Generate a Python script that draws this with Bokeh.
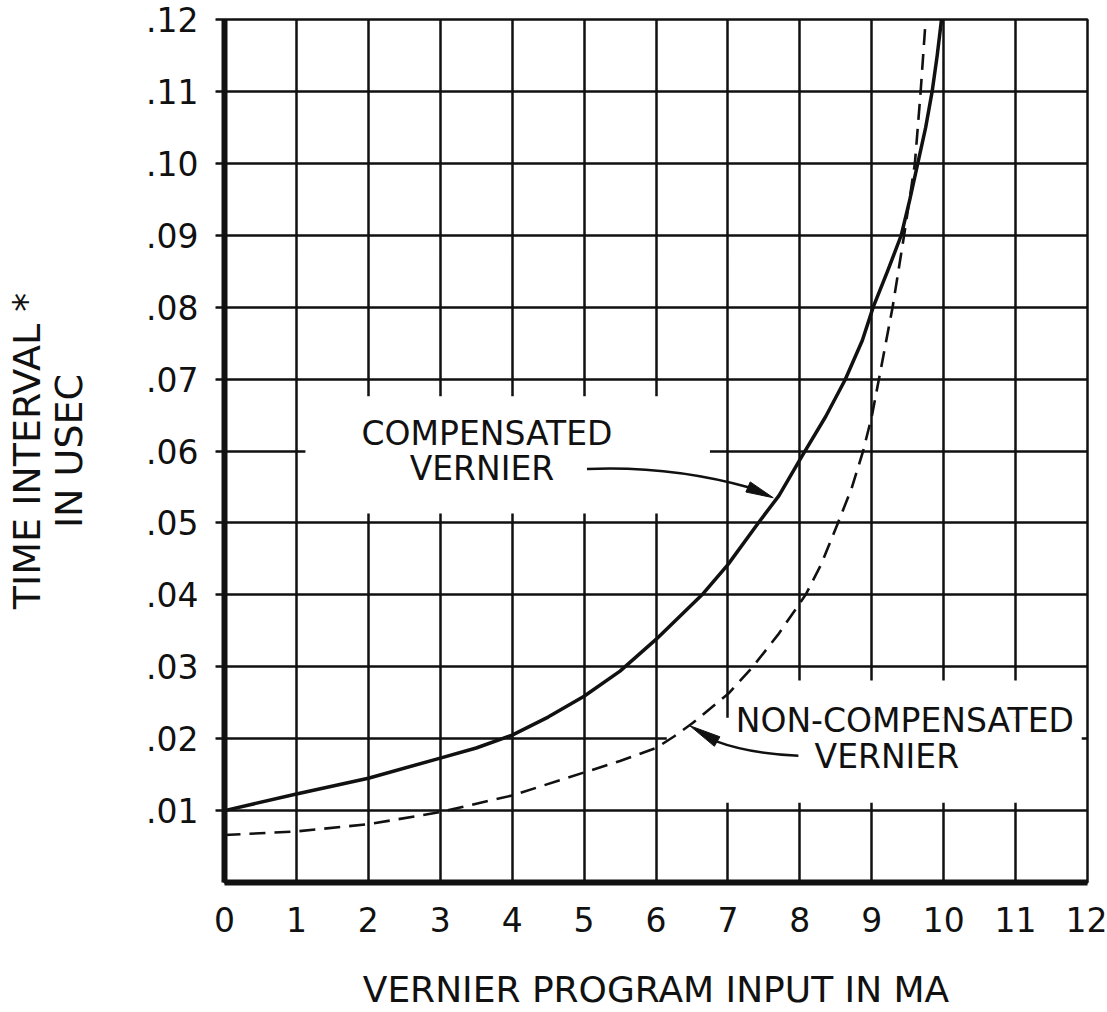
from bokeh.plotting import figure
from bokeh.models import FixedTicker, CustomJSTickFormatter, Range1d
from bokeh.core.properties import value
from bokeh.embed import file_html
from bokeh.resources import INLINE

FONT = "DejaVu Sans"
INK = "#111111"

# ---- data ----
x_ticks = [0, 1, 2, 3, 4, 5, 6, 7, 8, 9, 10, 11, 12]
y_ticks = [0.01, 0.02, 0.03, 0.04, 0.05, 0.06, 0.07, 0.08, 0.09, 0.10, 0.11, 0.12]

comp_x = [0, 1, 2, 3, 3.5, 4, 4.5, 5, 5.5, 6, 6.64, 7.0, 7.43, 7.71, 8.03, 8.36, 8.63,
          8.87, 9.02, 9.22, 9.41, 9.53, 9.64, 9.75, 9.84, 9.91, 9.97]
comp_y = [0.0100, 0.0123, 0.0145, 0.0173, 0.0187, 0.0205, 0.0230, 0.0259, 0.0294, 0.0338,
          0.0400, 0.0442, 0.0501, 0.0538, 0.0593, 0.0648, 0.0699, 0.0754, 0.0800, 0.0850,
          0.0900, 0.0950, 0.1000, 0.1050, 0.1100, 0.1150, 0.1200]

noncomp_x = [0, 1, 2, 3, 4, 5, 5.5, 6, 6.25, 6.5, 7.0, 7.33, 7.7, 8.08, 8.3, 8.53, 8.72,
             8.88, 9.0, 9.10, 9.29, 9.45, 9.60, 9.68, 9.75]
noncomp_y = [0.0066, 0.0071, 0.0081, 0.0098, 0.0121, 0.0153, 0.0169, 0.0187, 0.0203, 0.0221,
             0.0262, 0.0298, 0.0345, 0.0400, 0.0443, 0.0500, 0.0548, 0.0600, 0.0648, 0.0700,
             0.0800, 0.0900, 0.1000, 0.1100, 0.1200]

x_title = "VERNIER PROGRAM INPUT IN MA"
y_title = "TIME INTERVAL *\nIN USEC"
comp_lines = ["COMPENSATED", "VERNIER"]
noncomp_lines = ["NON-COMPENSATED", "VERNIER"]

# ---- figure ----
p = figure(width=1107, height=1012, x_range=Range1d(0, 12), y_range=Range1d(0, 0.12),
           output_backend="svg", toolbar_location=None,
           min_border_left=224, min_border_right=20, min_border_top=19, min_border_bottom=129)
p.background_fill_color = "white"
p.border_fill_color = "white"
p.outline_line_color = INK
p.outline_line_width = 2.5
p.outline_line_alpha = 1.0

for ax, ticks in ((p.xaxis[0], x_ticks), (p.yaxis[0], y_ticks)):
    ax.ticker = FixedTicker(ticks=ticks)
    ax.axis_line_color = INK
    ax.axis_line_width = 6
    ax.major_tick_line_color = INK
    ax.major_tick_line_width = 2.5
    ax.major_tick_in = 0
    ax.minor_tick_line_color = None
    ax.major_label_text_font = FONT
    ax.major_label_text_font_size = "33px"
    ax.major_label_text_color = INK
    ax.axis_label_text_font = FONT
    ax.axis_label_text_font_style = "normal"
    ax.axis_label_text_color = INK

p.xaxis.major_tick_out = 0
p.xaxis.major_label_standoff = 24
p.xaxis.axis_label = x_title
p.xaxis.axis_label_text_font_size = "36px"
p.xaxis.axis_label_standoff = 34

p.yaxis.major_tick_out = 9
p.yaxis.major_label_standoff = 17
p.yaxis.formatter = CustomJSTickFormatter(code="return tick.toFixed(2).slice(1);")
p.yaxis.axis_label = y_title
p.yaxis.axis_label_text_font_size = "38px"
p.yaxis.axis_label_text_line_height = 0.95
p.yaxis.axis_label_standoff = 52

for g, ticks in ((p.xgrid[0], x_ticks), (p.ygrid[0], y_ticks)):
    g.ticker = FixedTicker(ticks=ticks)
    g.grid_line_color = INK
    g.grid_line_width = 2.5
    g.grid_line_alpha = 1.0

# ---- white label boxes that interrupt the grid ----
p.quad(left=[1.125, 6.15, 7.05], right=[6.75, 11.92, 11.92],
       bottom=[0.0513, 0.0111, 0.0229], top=[0.0676, 0.0229, 0.0281],
       fill_color="white", line_color=None)

# ---- curves ----
p.line(comp_x, comp_y, line_color=INK, line_width=3.5, line_join="round")
p.line(noncomp_x, noncomp_y, line_color=INK, line_width=2.6, line_dash="16 9")

# ---- labels ----
p.text(x=[3.65, 3.58], y=[0.0624, 0.0576], text=comp_lines,
       text_font=value(FONT), text_font_size="33px", text_color=INK,
       text_align="center", text_baseline="middle")
p.text(x=[9.46, 9.21], y=[0.0225, 0.0175], text=noncomp_lines,
       text_font=value(FONT), text_font_size="33px", text_color=INK,
       text_align="center", text_baseline="middle")

# ---- leader arrows ----
SX = 863 / 12.0
SY = 864 / 0.12

def head(tip, base, width_px):
    tx, ty = tip[0] * SX, tip[1] * SY
    bx, by = base[0] * SX, base[1] * SY
    dx, dy = tx - bx, ty - by
    n = (dx * dx + dy * dy) ** 0.5
    nx, ny = -dy / n * width_px / 2, dx / n * width_px / 2
    xs = [tx / SX, (bx + nx) / SX, (bx - nx) / SX]
    ys = [ty / SY, (by + ny) / SY, (by - ny) / SY]
    return xs, ys

p.quadratic(x0=[5.04, 7.98], y0=[0.0575, 0.01764], x1=[7.31, 6.82], y1=[0.0549, 0.0197],
            cx=[6.2, 7.3], cy=[0.0580, 0.0179], line_color=INK, line_width=2.5)
h1 = head((7.63, 0.0535), (7.28, 0.0550), 11)
h2 = head((6.47, 0.0218), (6.85, 0.0196), 11)
p.patches(xs=[h1[0], h2[0]], ys=[h1[1], h2[1]], fill_color=INK, line_color=INK, line_width=1)

open("out.html", "w").write(file_html(p, INLINE))
